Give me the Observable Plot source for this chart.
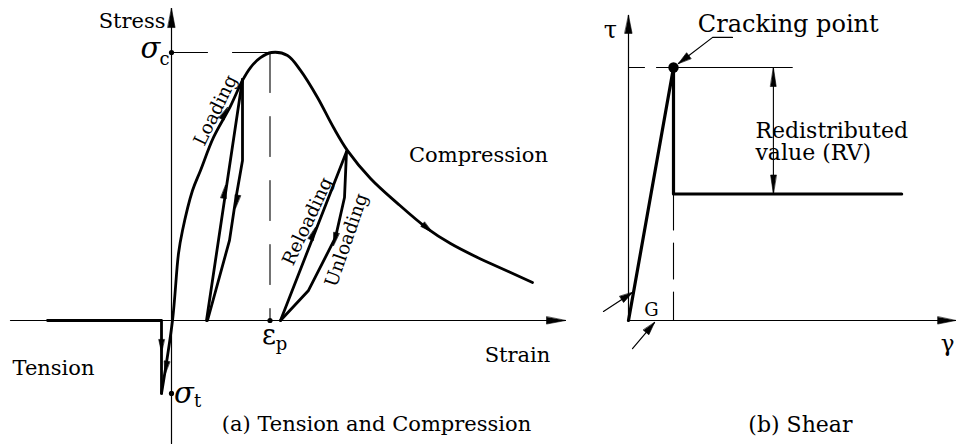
<!DOCTYPE html>
<html><head><meta charset="utf-8">
<script src="https://cdn.jsdelivr.net/npm/d3@7"></script>
<script src="https://cdn.jsdelivr.net/npm/@observablehq/plot@0.6"></script>
<style>
html,body{margin:0;padding:0;background:#fff;}
#fig{display:flex;width:956px;height:445px;overflow:hidden;}
#fig svg{flex:none;}
</style></head><body><div id="fig"></div>
<script>
// ================= Panel (a): strain ε (ε/εc) vs stress σ (σ/σc) =================
const tensionStrain = [-1.24, -0.10, -0.10];
const tensionStress = [0, 0, -0.272];
const envelopeStrain = [-0.10, 0.01, 0.07, 0.11, 0.21, 0.29, 0.42, 0.59, 0.71, 0.79, 0.89, 1.00, 1.16, 1.29, 1.46, 1.62, 1.76, 1.99, 2.26, 2.56, 2.79, 3.06, 3.19, 3.61];
const envelopeStress = [-0.272, 0, 0.25, 0.336, 0.485, 0.56, 0.683, 0.800, 0.896, 0.944, 0.981, 1.00, 0.989, 0.933, 0.832, 0.72, 0.634, 0.53, 0.437, 0.343, 0.287, 0.235, 0.213, 0.142];
const loop1ReloadStrain = [0.35, 0.71];
const loop1ReloadStress = [0, 0.900];
const loop1UnloadStrain = [0.71, 0.71, 0.64, 0.58, 0.36];
const loop1UnloadStress = [0.900, 0.597, 0.448, 0.299, 0];
const loop2ReloadStrain = [1.09, 1.75];
const loop2ReloadStress = [0, 0.63];
const loop2UnloadStrain = [1.75, 1.73, 1.64, 1.37, 1.09];
const loop2UnloadStress = [0.63, 0.459, 0.31, 0.112, 0];
const peakStrain = 0.985;            // εp / peak marker
const tensileStrength = -0.272;      // σt
const axisAStrain = [-1.61, 3.94];
const axisAStress = [-0.459, 1.164];
// path-direction arrowheads: tip position and direction (data units)
const headATipStrain = [0.56, 0.54, 0.64, 1.44, 1.62, 2.61, -0.10, -0.065];
const headATipStress = [0.795, 0.504, 0.42, 0.347, 0.28, 0.328, -0.119, -0.20];
const headADirStrain = [0.17, 0.36, -0.07, 0.66, -0.09, 0.30, 0, -0.11];
const headADirStress = [0.123, 0.903, -0.149, 0.63, -0.149, -0.094, -1, -0.272];
// labels
const labelAText = ["Compression", "Strain", "Tension", "(a) Tension and Compression"];
const labelAStrain = [3.07, 3.46, -1.18, 2.05];
const labelAStress = [0.616, -0.13, -0.179, -0.388];

// ================= Panel (b): shear strain γ (γ/γcr) vs shear stress τ (τ/τcr) =================
const shearStrain = [0, 1, 1, 6.07];
const shearStress = [0, 1, 0.5, 0.5];
const crackTopLineEnd = 3.64;
const rvArrowStrain = 3.22;
const axisBStrain = 7.27;
const axisBStress = 1.206;
const leaderStrain = [2.31, 1.87, 1.11];
const leaderStress = [1.119, 1.119, 1.016];
const gArrow1Strain = [-0.556, 0.089];
const gArrow1Stress = [0.036, 0.111];
const gArrow2Strain = [0.089, 0.578];
const gArrow2Stress = [-0.111, -0.008];
const labelBText = ["Cracking point", "(b) Shear"];
const labelBStrain = [3.55, 3.82];
const labelBStress = [1.172, -0.411];
const labelBSize = [24, 22];
const rvText = ["Redistributed", "value (RV)"];
const rvStrain = 2.82;
const rvStress = 0.707;

// ---------------- scales (layout) ----------------
const aX = {domain: [0, 1], range: [171, 271]};
const aY = {domain: [0, 1], range: [320, 52]};
const bX = {domain: [0, 1], range: [28, 73]};
const bY = {domain: [0, 1], range: [320, 67]};
const kxA = (aX.range[1] - aX.range[0]) / (aX.domain[1] - aX.domain[0]);
const kyA = (aY.range[0] - aY.range[1]) / (aY.domain[1] - aY.domain[0]);
const kxB = (bX.range[1] - bX.range[0]) / (bX.domain[1] - bX.domain[0]);
const kyB = (bY.range[0] - bY.range[1]) / (bY.domain[1] - bY.domain[0]);
const angle = (dx, dy, kx, ky) => Math.atan2(dx * kx, dy * ky) * 180 / Math.PI;

const head = {draw(context, l, r) {
  context.moveTo(0, -l); context.lineTo(r, 0); context.lineTo(-r, 0); context.closePath();
}};
const FONT = "DejaVu Serif";
const pts = (xs, ys) => xs.map((x, i) => ({x, y: ys[i]}));
const headMark = (data, kx, ky, len, r) => Plot.vector(data, {
  x: "x", y: "y", rotate: d => angle(d.dx, d.dy, kx, ky), length: len, r,
  anchor: "end", shape: head, fill: "black", stroke: "black", strokeWidth: 0.6
});

const thick = {stroke: "black", strokeWidth: 2.8, strokeLinejoin: "round", strokeLinecap: "round"};
const thin = {stroke: "black", strokeWidth: 1.2};

const headsA = headATipStrain.map((x, i) => ({x, y: headATipStress[i], dx: headADirStrain[i], dy: headADirStress[i]}));

const plotA = Plot.plot({
  width: 600, height: 445, margin: 0,
  x: {...aX, axis: null}, y: {...aY, axis: null},
  style: {fontFamily: FONT, background: "white", overflow: "visible"},
  marks: [
    // axes
    Plot.line(pts(axisAStrain, [0, 0]), {x: "x", y: "y", ...thin}),
    Plot.line(pts([0, 0], axisAStress), {x: "x", y: "y", ...thin}),
    headMark([{x: axisAStrain[1], y: 0, dx: 1, dy: 0}, {x: 0, y: axisAStress[1], dx: 0, dy: 1}], kxA, kyA, 19, 3.6),
    // reference dashed lines
    Plot.line(pts([0, 1.0], [1, 1]), {x: "x", y: "y", stroke: "black", strokeWidth: 1.1, strokeDasharray: "36,25"}),
    Plot.line(pts([peakStrain, peakStrain], [1, 0]), {x: "x", y: "y", stroke: "black", strokeWidth: 1.1, strokeDasharray: "40,24"}),
    // curves
    Plot.line(pts(tensionStrain, tensionStress), {x: "x", y: "y", ...thick}),
    Plot.line(pts(envelopeStrain, envelopeStress), {x: "x", y: "y", curve: "catmull-rom", ...thick}),
    Plot.line(pts(loop1ReloadStrain, loop1ReloadStress), {x: "x", y: "y", ...thick}),
    Plot.line(pts(loop1UnloadStrain, loop1UnloadStress), {x: "x", y: "y", ...thick}),
    Plot.line(pts(loop2ReloadStrain, loop2ReloadStress), {x: "x", y: "y", ...thick}),
    Plot.line(pts(loop2UnloadStrain, loop2UnloadStress), {x: "x", y: "y", ...thick}),
    headMark(headsA, kxA, kyA, 13, 2.8),
    // marked points
    Plot.dot([{x: 0, y: 1}, {x: 0, y: tensileStrength}, {x: peakStrain, y: 0}], {x: "x", y: "y", r: 2.6, fill: "black"}),
    // symbols
    Plot.text([{x: -0.06, y: 1.115}], {x: "x", y: "y", text: () => "Stress", textAnchor: "end", fontSize: 21}),
    Plot.text([{x: -0.21, y: 1.015}, {x: 0.125, y: -0.275}], {x: "x", y: "y", text: () => "σ", fontSize: 29, fontStyle: "italic"}),
    Plot.text([{x: -0.07, y: 0.975, t: "c"}, {x: 0.26, y: -0.30, t: "t"}, {x: 1.10, y: -0.09, t: "p"}], {x: "x", y: "y", text: "t", fontSize: 18}),
    Plot.text([{x: 0.975, y: -0.055}], {x: "x", y: "y", text: () => "ε", fontSize: 27}),
    // labels
    Plot.text(labelAText.map((t, i) => ({t, x: labelAStrain[i], y: labelAStress[i]})), {x: "x", y: "y", text: "t", fontSize: 21}),
    Plot.text([{x: 0.44, y: 0.784}], {x: "x", y: "y", text: () => "Loading", rotate: -64, fontSize: 18.5}),
    Plot.text([{x: 1.36, y: 0.37}], {x: "x", y: "y", text: () => "Reloading", rotate: -65, fontSize: 18.5}),
    Plot.text([{x: 1.75, y: 0.30}], {x: "x", y: "y", text: () => "Unloading", rotate: -71, fontSize: 18.5})
  ]
});

const plotB = Plot.plot({
  width: 356, height: 445, margin: 0,
  x: {...bX, axis: null}, y: {...bY, axis: null},
  style: {fontFamily: FONT, background: "white", overflow: "visible"},
  marks: [
    Plot.line(pts([0, axisBStrain], [0, 0]), {x: "x", y: "y", ...thin}),
    Plot.line(pts([0, 0], [0, axisBStress]), {x: "x", y: "y", ...thin}),
    headMark([{x: axisBStrain, y: 0, dx: 1, dy: 0}, {x: 0, y: axisBStress, dx: 0, dy: 1}], kxB, kyB, 18, 3.6),
    // reference lines
    Plot.line(pts([0, 1], [1, 1]), {x: "x", y: "y", stroke: "black", strokeWidth: 1.1, strokeDasharray: "16,12"}),
    Plot.line(pts([1, crackTopLineEnd], [1, 1]), {x: "x", y: "y", stroke: "black", strokeWidth: 1.1}),
    Plot.line(pts([1, 1], [0.5, 0]), {x: "x", y: "y", stroke: "black", strokeWidth: 1.1, strokeDasharray: "36,13"}),
    // RV double arrow
    Plot.line(pts([rvArrowStrain, rvArrowStrain], [0.5, 1]), {x: "x", y: "y", stroke: "black", strokeWidth: 1.1}),
    headMark([{x: rvArrowStrain, y: 1, dx: 0, dy: 1}, {x: rvArrowStrain, y: 0.5, dx: 0, dy: -1}], kxB, kyB, 19, 2.8),
    // shear law
    Plot.line(pts(shearStrain, shearStress), {x: "x", y: "y", ...thick, strokeWidth: 3.2}),
    Plot.dot([{x: 1, y: 1}], {x: "x", y: "y", r: 5.2, fill: "black"}),
    // leaders
    Plot.line(pts(leaderStrain, leaderStress), {x: "x", y: "y", ...thin}),
    Plot.line(pts(gArrow1Strain, gArrow1Stress), {x: "x", y: "y", ...thin}),
    Plot.line(pts(gArrow2Strain, gArrow2Stress), {x: "x", y: "y", ...thin}),
    headMark([
      {x: leaderStrain[2], y: leaderStress[2], dx: leaderStrain[2] - leaderStrain[1], dy: leaderStress[2] - leaderStress[1]},
      {x: gArrow1Strain[1], y: gArrow1Stress[1], dx: gArrow1Strain[1] - gArrow1Strain[0], dy: gArrow1Stress[1] - gArrow1Stress[0]},
      {x: gArrow2Strain[1], y: gArrow2Stress[1], dx: gArrow2Strain[1] - gArrow2Strain[0], dy: gArrow2Stress[1] - gArrow2Stress[0]}
    ], kxB, kyB, 13, 3.6),
    // texts
    ...labelBText.map((t, i) => Plot.text([{t, x: labelBStrain[i], y: labelBStress[i]}], {x: "x", y: "y", text: "t", fontSize: labelBSize[i]})),
    Plot.text([{x: rvStrain, y: rvStress}], {x: "x", y: "y", text: () => rvText.join("\n"), textAnchor: "start", lineHeight: 1.04, fontSize: 22}),
    Plot.text([{x: -0.40, y: 1.146}], {x: "x", y: "y", text: () => "τ", fontSize: 24}),
    Plot.text([{x: 7.09, y: -0.091}], {x: "x", y: "y", text: () => "γ", fontSize: 23}),
    Plot.text([{x: 0.51, y: 0.04}], {x: "x", y: "y", text: () => "G", fontSize: 18})
  ]
});

const fig = document.getElementById("fig");
fig.append(plotA, plotB);
</script>
</body></html>
